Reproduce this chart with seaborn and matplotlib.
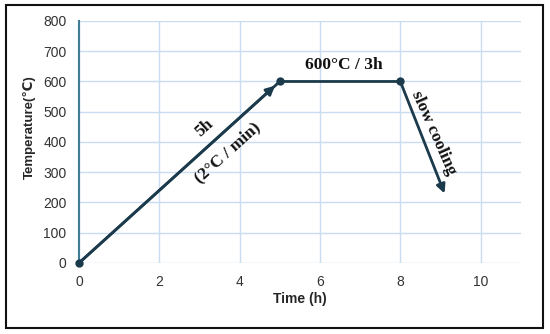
import numpy as np
import pandas as pd
import seaborn as sns
from matplotlib import pyplot as plt
from matplotlib.patches import Rectangle

# heating profile
time_h = [0, 5, 8]
temp_c = [0, 600, 600]
cool_end = (9.1, 230)
x_ticks = [0, 2, 4, 6, 8, 10]
y_ticks = [0, 100, 200, 300, 400, 500, 600, 700, 800]

line_col = '#1b3a4b'
grid_col = '#c9dcf0'

sns.set_style('white')
plt.rcParams['font.family'] = ['Liberation Sans', 'DejaVu Sans']

fig = plt.figure(figsize=(5.5, 3.34), dpi=100)
ax = fig.add_axes([0.1436, 0.2126, 0.8034, 0.7246])

df = pd.DataFrame({'time': time_h, 'temp': temp_c})
sns.lineplot(data=df, x='time', y='temp', ax=ax, color=line_col, lw=2,
             marker='o', markersize=6, markeredgewidth=0, clip_on=False,
             zorder=4)

# arrow heads
ax.annotate('', xy=(time_h[1] - 0.12, temp_c[1] - 14), xytext=(time_h[0], temp_c[0]),
            arrowprops=dict(arrowstyle='-|>', mutation_scale=13, lw=2,
                            color=line_col, shrinkA=0, shrinkB=0), zorder=3)
ax.annotate('', xy=cool_end, xytext=(time_h[2], temp_c[2]),
            arrowprops=dict(arrowstyle='-|>', mutation_scale=13, lw=2,
                            color=line_col, shrinkA=0, shrinkB=0), zorder=3)

serif = dict(family='Liberation Serif', fontweight='bold', fontsize=12.5,
             color='#111111', ha='center', va='center')
ax.text(3.13, 446, '5h', rotation=42, **serif)
ax.text(3.7, 365, '(2°C / min)', rotation=42, **serif)
ax.text(6.59, 654, '600°C / 3h', **serif)
ax.text(8.82, 430, 'slow cooling', rotation=-66, **serif)

ax.set_xlim(0, 11)
ax.set_ylim(0, 800)
ax.set_xticks(x_ticks)
ax.set_yticks(y_ticks)
ax.grid(True, color=grid_col, lw=1)
ax.set_axisbelow(True)
for s in ['top', 'right', 'bottom']:
    ax.spines[s].set_visible(False)
ax.spines['left'].set_color('#3f7d96')
ax.spines['left'].set_linewidth(1.5)
ax.tick_params(axis='both', length=0, pad=9, labelsize=10, labelcolor='#333333')

ax.set_xlabel('Time (h)', fontsize=10, fontweight='bold', labelpad=2)
ax.set_ylabel('Temperature(℃)', fontsize=9.5, fontweight='bold')
ax.yaxis.set_label_coords(-0.097, 0.562)

fig.patches.append(Rectangle((0.011, 0.018), 0.977, 0.967, transform=fig.transFigure,
                             fill=False, edgecolor='#111111', lw=1.5))

fig.savefig('out.png', dpi=100)
